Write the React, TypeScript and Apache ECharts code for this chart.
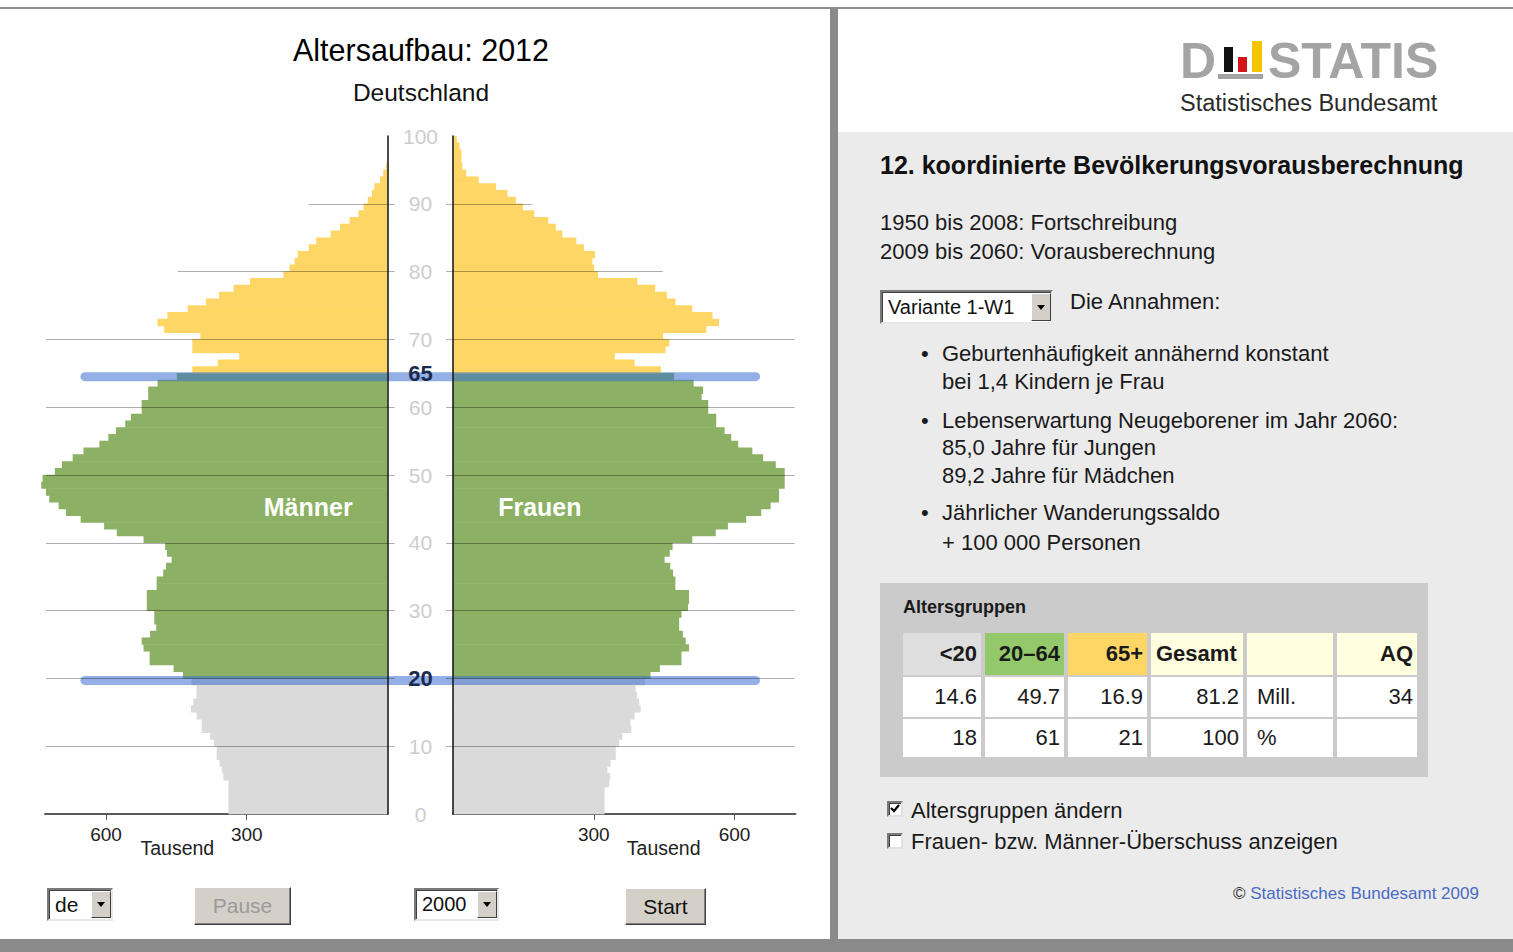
import React, { useEffect, useRef } from "react";
import * as echarts from "echarts";

const FONT = '"Liberation Sans", Arial, Helvetica, sans-serif';

// ---------- data ----------
// one bar per year of age (0 … 99), values in thousands
const AGES: number[] = Array.from({ length: 100 }, (_, i) => i);

const MEN: number[] = [
  339, 339, 339, 339, 339, 350, 353, 358, 364, 364, // 0-9
  370, 378, 396, 396, 407, 419, 414, 407, 407, 418, // 10-19
  436, 456, 507, 507, 520, 524, 506, 493, 497, 497, // 20-29
  513, 513, 513, 492, 492, 478, 472, 460, 470, 474, // 30-39
  520, 577, 604, 654, 685, 701, 721, 728, 738, 735, // 40-49
  709, 694, 671, 648, 614, 595, 579, 559, 547, 524, // 50-59
  524, 510, 510, 490, 449, 416, 362, 316, 416, 416, // 60-69
  399, 476, 490, 469, 426, 387, 359, 328, 293, 222, // 70-79
  209, 198, 191, 168, 152, 121, 101, 81, 62, 51,    // 80-89
  42, 33, 28, 16, 9, 3, 1, 0, 0, 0,                 // 90-99
];

const WOMEN: number[] = [
  323, 323, 323, 323, 333, 335, 329, 336, 347, 347, // 0-9
  354, 361, 380, 378, 387, 400, 397, 392, 389, 409, // 10-19
  421, 441, 487, 487, 503, 496, 490, 482, 482, 487, // 20-29
  501, 503, 503, 474, 474, 469, 463, 451, 462, 468, // 30-39
  510, 560, 586, 625, 657, 677, 695, 695, 707, 707, // 40-49
  707, 688, 661, 638, 608, 593, 579, 561, 561, 544, // 50-59
  544, 530, 533, 513, 471, 443, 387, 345, 453, 461, // 60-69
  448, 540, 567, 553, 510, 474, 456, 431, 393, 309, // 70-79
  301, 297, 303, 279, 263, 233, 219, 203, 173, 149, // 80-89
  134, 116, 92, 55, 28, 20, 18, 18, 14, 8,          // 90-99
];

const AGE_GROUP_LIMITS = [20, 65];
const GROUP_COLORS = ["#dadada", "#8cb164", "#fdd666"];

const Y_TICK_VALUES = [10, 20, 30, 40, 50, 60, 70, 80, 90];
const Y_LABEL_VALUES = [0, 10, 20, 30, 40, 50, 60, 65, 70, 80, 90, 100];
const HIGHLIGHT_AGES = [20, 65];
const BLUE_LINE_AGES = [19.7, 64.5];
const BLUE_LINE_EXTENT = 645;
const GRID_LINE_AGES = [10, 20, 30, 40, 50, 60, 70, 80, 90];
const GRID_LINE_LENGTHS = [728, 728, 728, 728, 728, 728, 728, 447, 168];
const X_TICK_VALUES = [300, 600];
const X_MAX = 730;

const TITLE = "Altersaufbau: 2012";
const SUBTITLE = "Deutschland";
const SEX_LABELS = ["Männer", "Frauen"];
const UNIT_LABEL = "Tausend";

const TABLE_HEADERS = ["<20", "20–64", "65+", "Gesamt", "", "AQ"];
const TABLE_ROW_MILL = ["14.6", "49.7", "16.9", "81.2", "Mill.", "34"];
const TABLE_ROW_PCT = ["18", "61", "21", "100", "%", ""];

// ---------- layout ----------
const GRID_TOP = 136;
const GRID_HEIGHT = 678;
const L_LEFT = 45;
const G_WIDTH = 342.5;
const R_LEFT = 453;
const PX_PER_UNIT = G_WIDTH / X_MAX;
const GAP_UNITS = (R_LEFT - (L_LEFT + G_WIDTH)) / PX_PER_UNIT;
// overlay axis spanning both halves (centre of the gap = 0), same scale in thousands
const OVERLAY_HALF = X_MAX + GAP_UNITS / 2;

function groupColor(age: number) {
  if (age < AGE_GROUP_LIMITS[0]) return GROUP_COLORS[0];
  if (age < AGE_GROUP_LIMITS[1]) return GROUP_COLORS[1];
  return GROUP_COLORS[2];
}

function barSeries(idx: number, values: number[]) {
  return {
    type: "custom",
    xAxisIndex: idx,
    yAxisIndex: idx,
    clip: false,
    silent: true,
    z: 2,
    encode: { x: 0, y: 1 },
    data: AGES.map((a, i) => [values[i], a]),
    renderItem: (_p: any, api: any) => {
      const v = api.value(0);
      const a = api.value(1);
      const p0 = api.coord([0, a]);
      const p1 = api.coord([v, a + 1]);
      return {
        type: "rect",
        shape: {
          x: Math.min(p0[0], p1[0]),
          y: p1[1] - 0.3,
          width: Math.abs(p1[0] - p0[0]),
          height: p0[1] - p1[1] + 0.6,
        },
        style: { fill: groupColor(a) },
      };
    },
  };
}

function gridLineSeries(idx: number) {
  return {
    type: "line",
    xAxisIndex: idx,
    yAxisIndex: idx,
    data: [],
    z: 3,
    silent: true,
    markLine: {
      silent: true,
      symbol: "none",
      animation: false,
      label: { show: false },
      lineStyle: { color: "rgba(0,0,0,0.32)", width: 1, type: "solid" },
      data: GRID_LINE_AGES.map((a, i) => [
        { coord: [GRID_LINE_LENGTHS[i], a] },
        { coord: [0, a] },
      ]),
    },
  };
}

function blueLineSeries(age: number) {
  const reach = BLUE_LINE_EXTENT + GAP_UNITS / 2;
  return {
    type: "line",
    xAxisIndex: 2,
    yAxisIndex: 2,
    clip: false,
    silent: true,
    symbol: "none",
    z: 4,
    lineStyle: { color: "rgba(60,110,210,0.55)", width: 9, cap: "round" },
    data: [
      [-reach, age],
      [reach, age],
    ],
  };
}

function xAxis(idx: number) {
  return {
    gridIndex: idx,
    type: "value",
    min: 0,
    max: X_MAX,
    interval: 300,
    inverse: idx === 0,
    position: "bottom",
    splitLine: { show: false },
    axisLine: { show: true, lineStyle: { color: "#5a5a5a", width: 2 } },
    axisTick: {
      show: true,
      length: 6,
      customValues: X_TICK_VALUES,
      lineStyle: { color: "#5a5a5a", width: 1 },
    },
    axisLabel: {
      show: true,
      customValues: X_TICK_VALUES,
      formatter: (v: number) => (X_TICK_VALUES.includes(v) ? String(v) : ""),
      color: "#222",
      fontSize: 19,
      fontFamily: FONT,
      margin: 11,
    },
  };
}

function yAxis(idx: number) {
  return {
    gridIndex: idx,
    type: "value",
    min: 0,
    max: 100,
    interval: 10,
    z: 10,
    position: idx === 0 ? "right" : "left",
    splitLine: { show: false },
    axisLine: { show: true, lineStyle: { color: "#111", width: 1.5 } },
    axisTick: {
      show: true,
      length: 7,
      customValues: Y_TICK_VALUES,
      lineStyle: { color: "rgba(0,0,0,0.32)", width: 1 },
    },
    axisLabel: {
      show: idx === 0,
      customValues: Y_LABEL_VALUES,
      margin: 33,
      align: "center",
      color: "#cdcdcd",
      fontSize: 21,
      fontFamily: FONT,
      formatter: (v: number) =>
        HIGHLIGHT_AGES.includes(v) ? `{b|${v}}` : `${v}`,
      rich: {
        b: { fontWeight: "bold", color: "#1b2a4e", fontSize: 22, fontFamily: FONT },
      },
    },
  };
}

function Pyramid() {
  const ref = useRef<HTMLDivElement>(null);
  useEffect(() => {
    if (!ref.current) return;
    const chart = echarts.init(ref.current, null, { renderer: "svg" });
    const yMid = GRID_TOP + GRID_HEIGHT * (1 - 45.3 / 100);
    chart.setOption({
      animation: false,
      backgroundColor: "transparent",
      textStyle: { fontFamily: FONT },
      grid: [
        { left: L_LEFT, top: GRID_TOP, width: G_WIDTH, height: GRID_HEIGHT, containLabel: false, outerBoundsMode: "none" },
        { left: R_LEFT, top: GRID_TOP, width: G_WIDTH, height: GRID_HEIGHT, containLabel: false, outerBoundsMode: "none" },
        { left: L_LEFT, top: GRID_TOP, width: R_LEFT + G_WIDTH - L_LEFT, height: GRID_HEIGHT, containLabel: false, outerBoundsMode: "none" },
      ],
      xAxis: [
        xAxis(0),
        xAxis(1),
        { gridIndex: 2, type: "value", min: -OVERLAY_HALF, max: OVERLAY_HALF, show: false },
      ],
      yAxis: [
        yAxis(0),
        yAxis(1),
        { gridIndex: 2, type: "value", min: 0, max: 100, show: false },
      ],
      series: [
        barSeries(0, MEN),
        barSeries(1, WOMEN),
        gridLineSeries(0),
        gridLineSeries(1),
        ...BLUE_LINE_AGES.map((a) => blueLineSeries(a)),
      ],
      graphic: [
        {
          type: "text",
          x: 421,
          y: 50,
          style: { text: TITLE, fontSize: 30.5, fontFamily: FONT, fill: "#000", align: "center", verticalAlign: "middle" },
        },
        {
          type: "text",
          x: 421,
          y: 92,
          style: { text: SUBTITLE, fontSize: 24.5, fontFamily: FONT, fill: "#111", align: "center", verticalAlign: "middle" },
        },
        {
          type: "text",
          x: L_LEFT + G_WIDTH - 169 * PX_PER_UNIT,
          y: yMid,
          z: 10,
          style: { text: SEX_LABELS[0], fontSize: 25, fontWeight: "bold", fontFamily: FONT, fill: "#fff", align: "center", verticalAlign: "middle" },
        },
        {
          type: "text",
          x: R_LEFT + 185 * PX_PER_UNIT,
          y: yMid,
          z: 10,
          style: { text: SEX_LABELS[1], fontSize: 25, fontWeight: "bold", fontFamily: FONT, fill: "#fff", align: "center", verticalAlign: "middle" },
        },
        {
          type: "text",
          x: L_LEFT + G_WIDTH - 448 * PX_PER_UNIT,
          y: 848,
          style: { text: UNIT_LABEL, fontSize: 19.5, fontFamily: FONT, fill: "#222", align: "center", verticalAlign: "middle" },
        },
        {
          type: "text",
          x: R_LEFT + 449 * PX_PER_UNIT,
          y: 848,
          style: { text: UNIT_LABEL, fontSize: 19.5, fontFamily: FONT, fill: "#222", align: "center", verticalAlign: "middle" },
        },
      ],
    });
    return () => chart.dispose();
  }, []);
  return (
    <div
      ref={ref}
      style={{ position: "absolute", left: 0, top: 0, width: 829, height: 939 }}
    />
  );
}

// ---------- HTML helpers ----------
function T(props: {
  x: number;
  y: number;
  size: number;
  bold?: boolean;
  color?: string;
  children: any;
  spacing?: number;
}) {
  const { x, y, size, bold, color, children, spacing } = props;
  return (
    <div
      style={{
        position: "absolute",
        left: x,
        top: y - size * 0.6,
        fontSize: size,
        lineHeight: `${size * 1.2}px`,
        fontWeight: bold ? "bold" : "normal",
        color: color || "#1a1a1a",
        whiteSpace: "nowrap",
        fontFamily: FONT,
        letterSpacing: spacing || 0,
      }}
    >
      {children}
    </div>
  );
}

function Arrow() {
  return (
    <div
      style={{
        width: 0,
        height: 0,
        borderLeft: "4px solid transparent",
        borderRight: "4px solid transparent",
        borderTop: "5px solid #000",
      }}
    />
  );
}

function Select(props: { x: number; y: number; w: number; h: number; text: string; size: number }) {
  const { x, y, w, h, text, size } = props;
  return (
    <div
      style={{
        position: "absolute",
        left: x,
        top: y,
        width: w,
        height: h,
        boxSizing: "border-box",
        background: "#fff",
        borderStyle: "solid",
        borderWidth: 2,
        borderColor: "#7a7a7a #e8e8e8 #e8e8e8 #7a7a7a",
        boxShadow: "inset 1px 1px 0 #404040",
      }}
    >
      <div
        style={{
          position: "absolute",
          left: 6,
          top: 0,
          height: h - 4,
          lineHeight: `${h - 4}px`,
          fontSize: size,
          fontFamily: FONT,
          color: "#111",
          whiteSpace: "nowrap",
        }}
      >
        {text}
      </div>
      <div
        style={{
          position: "absolute",
          right: 0,
          top: 1,
          width: 20,
          height: h - 6,
          boxSizing: "border-box",
          background: "#d4d0c8",
          borderStyle: "solid",
          borderWidth: 1,
          borderColor: "#fff #404040 #404040 #fff",
          display: "flex",
          alignItems: "center",
          justifyContent: "center",
        }}
      >
        <Arrow />
      </div>
    </div>
  );
}

function Button(props: { x: number; y: number; w: number; h: number; text: string; disabled?: boolean }) {
  const { x, y, w, h, text, disabled } = props;
  return (
    <div
      style={{
        position: "absolute",
        left: x,
        top: y,
        width: w,
        height: h,
        boxSizing: "border-box",
        background: "#d4d0c8",
        borderStyle: "solid",
        borderWidth: 1,
        borderColor: "#fff #404040 #404040 #fff",
        boxShadow: "inset -1px -1px 0 #808080",
        display: "flex",
        alignItems: "center",
        justifyContent: "center",
        fontSize: 21,
        fontFamily: FONT,
        color: disabled ? "#9a9a9a" : "#111",
      }}
    >
      {text}
    </div>
  );
}

function Checkbox(props: { x: number; y: number; checked: boolean }) {
  const { x, y, checked } = props;
  return (
    <div
      style={{
        position: "absolute",
        left: x,
        top: y,
        width: 16,
        height: 16,
        boxSizing: "border-box",
        background: "#fff",
        borderStyle: "solid",
        borderWidth: 2,
        borderColor: "#7a7a7a #e0e0e0 #e0e0e0 #7a7a7a",
        boxShadow: "inset 1px 1px 0 #404040",
      }}
    >
      {checked ? (
        <svg width="12" height="12" style={{ position: "absolute", left: 0, top: 0 }}>
          <polyline points="2,5 5,8 10,2" fill="none" stroke="#000" strokeWidth="2.2" />
        </svg>
      ) : null}
    </div>
  );
}

const TABLE_COLS = [
  [903, 78],
  [985, 79],
  [1068, 79],
  [1151, 92],
  [1247, 86],
  [1337, 80],
];
const TABLE_ROWS = [
  [633, 42],
  [677, 40],
  [719, 38],
];
const HEADER_BG = ["#dedede", "#93c96b", "#fdd666", "#ffffe0", "#ffffe0", "#ffffe0"];
const LEFT_ALIGNED_TEXT = ["Mill.", "%", "Gesamt"];

function Table() {
  const rows = [TABLE_HEADERS, TABLE_ROW_MILL, TABLE_ROW_PCT];
  const cells: any[] = [];
  rows.forEach((row, r) => {
    row.forEach((txt, c) => {
      const [x, w] = TABLE_COLS[c];
      const [y, h] = TABLE_ROWS[r];
      const left = LEFT_ALIGNED_TEXT.includes(txt);
      cells.push(
        <div
          key={`${r}-${c}`}
          style={{
            position: "absolute",
            left: x,
            top: y,
            width: w,
            height: h,
            boxSizing: "border-box",
            background: r === 0 ? HEADER_BG[c] : "#fff",
            display: "flex",
            alignItems: "center",
            justifyContent: left ? "flex-start" : "flex-end",
            padding: left ? (txt === "Gesamt" ? "0 0 0 5px" : "0 0 0 10px") : "0 4px 0 0",
            fontSize: 22,
            fontWeight: r === 0 ? "bold" : "normal",
            fontFamily: FONT,
            color: "#1a1a1a",
            whiteSpace: "nowrap",
          }}
        >
          {txt}
        </div>
      );
    });
  });
  return (
    <>
      <div
        style={{ position: "absolute", left: 880, top: 583, width: 548, height: 194, background: "#cbcbcb" }}
      />
      <T x={903} y={608} size={18} bold>
        Altersgruppen
      </T>
      {cells}
    </>
  );
}

const BULLETS = [
  { y: 354, lines: ["Geburtenhäufigkeit annähernd konstant", "bei 1,4 Kindern je Frau"] },
  { y: 421, lines: ["Lebenserwartung Neugeborener im Jahr 2060:", "85,0 Jahre für Jungen", "89,2 Jahre für Mädchen"] },
  { y: 513, lines: ["Jährlicher Wanderungssaldo", "+ 100 000 Personen"] },
];
const BULLET_LINE_STEP = [28, 27.5, 30];

function RightPanel() {
  return (
    <>
      {/* white header area */}
      <div style={{ position: "absolute", left: 838, top: 9, width: 675, height: 123, background: "#fff" }} />
      {/* gray body */}
      <div style={{ position: "absolute", left: 838, top: 132, width: 675, height: 807, background: "#ebebeb" }} />

      {/* logo */}
      <T x={1180} y={61} size={50} bold color="#a4a4a4">
        D
      </T>
      <div style={{ position: "absolute", left: 1224, top: 47, width: 9, height: 25, background: "#111" }} />
      <div style={{ position: "absolute", left: 1238, top: 57, width: 9, height: 15, background: "#d2161b" }} />
      <div style={{ position: "absolute", left: 1252, top: 41, width: 10, height: 31, background: "#f5c400" }} />
      <div style={{ position: "absolute", left: 1218, top: 74, width: 45, height: 5, background: "#a4a4a4" }} />
      <T x={1268} y={61} size={50} bold color="#a4a4a4">
        STATIS
      </T>
      <T x={1180} y={103} size={23.5} color="#2a2a2a">
        Statistisches Bundesamt
      </T>

      <T x={880} y={165} size={25} bold color="#111">
        12. koordinierte Bevölkerungsvorausberechnung
      </T>
      <T x={880} y={223} size={22}>
        1950 bis 2008: Fortschreibung
      </T>
      <T x={880} y={252} size={22}>
        2009 bis 2060: Vorausberechnung
      </T>

      <Select x={880} y={290} w={173} h={34} text="Variante 1-W1" size={20} />
      <T x={1070} y={302} size={22}>
        Die Annahmen:
      </T>

      {BULLETS.map((b, i) => (
        <React.Fragment key={i}>
          <T x={921} y={b.y} size={22}>
            •
          </T>
          {b.lines.map((ln, j) => (
            <T key={j} x={942} y={b.y + j * BULLET_LINE_STEP[i]} size={22}>
              {ln}
            </T>
          ))}
        </React.Fragment>
      ))}

      <Table />

      <Checkbox x={887} y={801} checked={true} />
      <T x={911} y={811} size={22}>
        Altersgruppen ändern
      </T>
      <Checkbox x={887} y={833} checked={false} />
      <T x={911} y={842} size={22}>
        Frauen- bzw. Männer-Überschuss anzeigen
      </T>

      <div
        style={{
          position: "absolute",
          left: 1233,
          top: 894 - 10,
          fontSize: 17,
          lineHeight: "20px",
          fontFamily: FONT,
          whiteSpace: "nowrap",
        }}
      >
        <span style={{ color: "#333" }}>© </span>
        <span style={{ color: "#4a6bc5" }}>Statistisches Bundesamt 2009</span>
      </div>
    </>
  );
}

export default function App() {
  return (
    <div
      style={{
        position: "fixed",
        left: 0,
        top: 0,
        width: 1513,
        height: 952,
        background: "#fff",
        overflow: "hidden",
        fontFamily: FONT,
      }}
    >
      <Pyramid />

      {/* bottom controls */}
      <Select x={47} y={888} w={66} h={33} text="de" size={21} />
      <Button x={194} y={887} w={97} h={38} text="Pause" disabled />
      <Select x={414} y={888} w={85} h={33} text="2000" size={20} />
      <Button x={625} y={888} w={81} h={37} text="Start" />

      <RightPanel />

      {/* frame */}
      <div style={{ position: "absolute", left: 0, top: 7, width: 1513, height: 2, background: "#8c8c8c" }} />
      <div style={{ position: "absolute", left: 830, top: 8, width: 8, height: 944, background: "#8a8a8a" }} />
      <div style={{ position: "absolute", left: 0, top: 939, width: 1513, height: 13, background: "#8a8a8a" }} />
    </div>
  );
}
